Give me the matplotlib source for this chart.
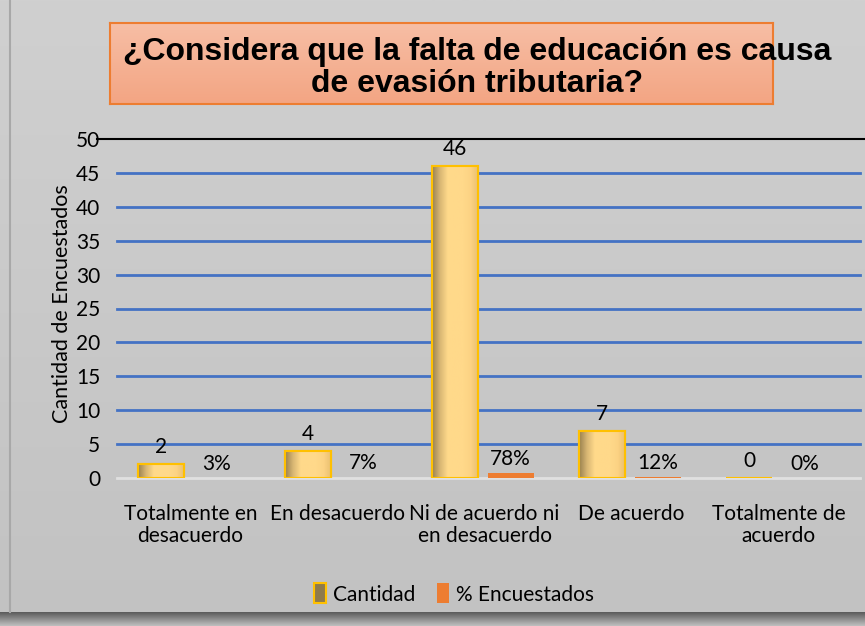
import numpy as np
import matplotlib.pyplot as plt
from matplotlib.colors import LinearSegmentedColormap
from matplotlib.patches import Patch

categorias = ["Totalmente en\ndesacuerdo", "En desacuerdo", "Ni de acuerdo ni\nen desacuerdo",
              "De acuerdo", "Totalmente de\nacuerdo"]
cantidad = [2, 4, 46, 7, 0]
porcentaje = [0.03, 0.07, 0.78, 0.12, 0.0]
etiquetas_pct = ["3%", "7%", "78%", "12%", "0%"]

plt.rcParams['font.family'] = ['Lato', 'DejaVu Sans']
fs = 15

fig = plt.figure(figsize=(8.65, 6.26), dpi=100)

# background with a soft vertical gradient and dark bottom shadow
bg = fig.add_axes([0, 0, 1, 1], zorder=-10)
bg.imshow(np.linspace(0, 1, 256).reshape(-1, 1),
          cmap=LinearSegmentedColormap.from_list('bg', ['#d0d0d0', '#c2c2c2']),
          aspect='auto', extent=[0, 1, 0, 1])
bg.imshow(np.linspace(1, 0, 64).reshape(-1, 1),
          cmap=LinearSegmentedColormap.from_list('sh', ['#c0c0c0', '#5a5a5a']),
          aspect='auto', extent=[0, 1, 0, 0.022])
bg.plot([0.012, 0.012], [0.022, 1], color='#a8a8a8', lw=1.5)
bg.set_xlim(0, 1)
bg.set_ylim(0, 1)
bg.axis('off')

# title box with orange gradient
tb = fig.add_axes([110 / 865, (626 - 104) / 626, 663 / 865, 81 / 626], zorder=1)
tb.imshow(np.linspace(0, 1, 128).reshape(-1, 1),
          cmap=LinearSegmentedColormap.from_list('tt', ['#f7bea5', '#f3a583']),
          aspect='auto', extent=[0, 1, 0, 1])
tb.set_xticks([])
tb.set_yticks([])
for s in tb.spines.values():
    s.set_color('#ed7d31')
    s.set_linewidth(1.5)
fig.text(477 / 865, (626 - 68) / 626,
         "¿Considera que la falta de educación es causa\nde evasión tributaria?",
         ha='center', va='center', fontsize=23, fontweight='bold',
         family=['Liberation Sans', 'DejaVu Sans'], linespacing=1.1, zorder=5)

ax = fig.add_axes([117 / 865, (626 - 478) / 626, 735 / 865, 339 / 626])
ax.set_facecolor('none')
x = np.arange(len(categorias))
w = 0.313

for yv in range(5, 50, 5):
    ax.axhline(yv, xmin=0, xmax=1.011, color='#4472c4', lw=2, clip_on=False, zorder=1)
ax.axhline(50, xmin=-0.027, xmax=1.02, color='black', lw=1.5, clip_on=False, zorder=1)
ax.axhline(0, xmin=0, xmax=1.011, color='#e0e0e0', lw=2, clip_on=False, zorder=1)

bars = ax.bar(x - 0.2, cantidad, w, color='#ffd98a', edgecolor='#ffc000', lw=1.5, zorder=3,
              label='Cantidad')
cmap_bar = LinearSegmentedColormap.from_list(
    'bar', ['#9a8250', '#d9b774', '#ffd98a', '#ffd98a', '#ffd98a', '#fcd283', '#e8bf70'])
for b in bars:
    if b.get_height() <= 0:
        continue
    x0, y0 = b.get_x(), b.get_y()
    im = ax.imshow(np.linspace(0, 1, 64).reshape(1, -1), cmap=cmap_bar, aspect='auto',
                   extent=[x0, x0 + b.get_width(), y0, y0 + b.get_height()], zorder=3.5)
    im.set_clip_path(b)
    ax.bar(b.get_x() + b.get_width() / 2, b.get_height(), b.get_width(), fill=False,
           edgecolor='#ffc000', lw=1.5, zorder=4)
ax.bar(x + 0.177, porcentaje, w, color='#ed7d31', zorder=3, label='% Encuestados')

for xi, v in zip(x, cantidad):
    ax.annotate(str(v), (xi - 0.2, v), xytext=(0, 5), textcoords='offset points',
                ha='center', va='bottom', fontsize=fs, zorder=6)
for xi, v, t in zip(x, porcentaje, etiquetas_pct):
    ax.annotate(t, (xi + 0.177, v), xytext=(0, 3), textcoords='offset points',
                ha='center', va='bottom', fontsize=fs, zorder=6)

ax.set_xlim(-0.5, 4.5)
ax.set_ylim(0, 50)
ax.set_yticks(range(0, 51, 5))
ax.set_xticks(x)
ax.set_xticklabels(categorias, fontsize=fs, linespacing=1.1)
ax.tick_params(axis='y', length=0, pad=12, labelsize=fs)
ax.tick_params(axis='x', length=0, pad=19)
for s in ax.spines.values():
    s.set_visible(False)
ax.set_ylabel("Cantidad de Encuestados", fontsize=fs + 0.5)
ax.yaxis.set_label_coords(-0.061, 0.515)

handles = [Patch(facecolor='#8e7a4c', edgecolor='#ffc000', lw=1.5),
           Patch(facecolor='#ed7d31', edgecolor='none')]
fig.legend(handles, ['Cantidad', '% Encuestados'], loc='center', ncol=2,
           bbox_to_anchor=(454 / 865, 32 / 626), frameon=False, fontsize=fs,
           handlelength=0.6, handleheight=1.1, handletextpad=0.35, columnspacing=1.0)

fig.savefig('out.png', dpi=100)
